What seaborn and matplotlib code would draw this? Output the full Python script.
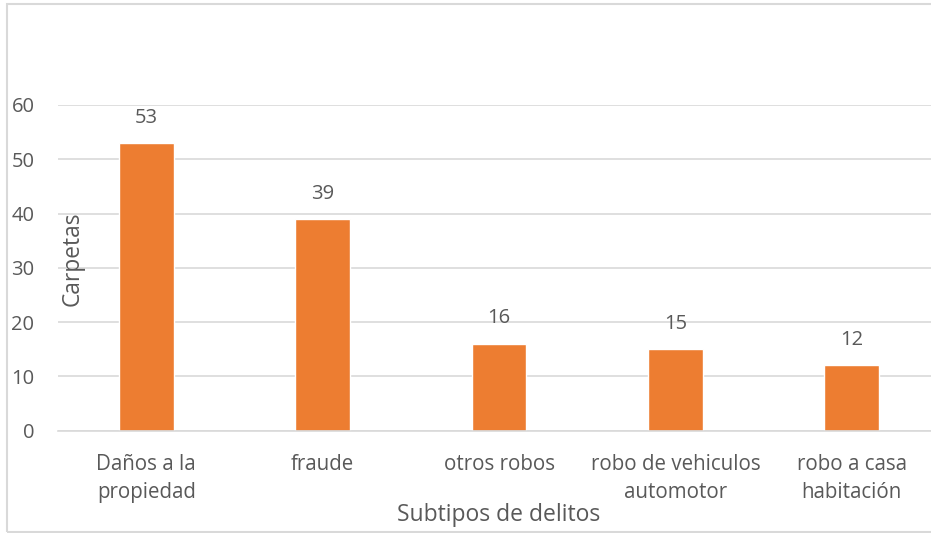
import matplotlib
matplotlib.use("Agg")
import matplotlib.pyplot as plt
import seaborn as sns
import pandas as pd
from matplotlib.patches import Rectangle

categories = ["Daños a la\npropiedad", "fraude", "otros robos", "robo de vehiculos\nautomotor", "robo a casa\nhabitación"]
values = [53, 39, 16, 15, 12]
yticks = [0, 10, 20, 30, 40, 50, 60]

sns.set_theme(style="white")
plt.rcParams['font.family'] = ['Open Sans', 'DejaVu Sans']
TXT = "#595959"

df = pd.DataFrame({"cat": categories, "val": values})

fig = plt.figure(figsize=(9.31, 5.33), dpi=100)
W, H = 931, 533
ax = fig.add_axes([58 / W, 1 - 430.5 / H, (940 - 58) / W, (430.5 - 105) / H])

sns.barplot(data=df, x="cat", y="val", color="#ED7D31", width=0.31, ax=ax, saturation=1)

ax.set_ylim(0, 60)
ax.set_xlim(-0.5, len(categories) - 0.5)
ax.set_yticks(yticks)
ax.yaxis.grid(True, color="#D9D9D9", linewidth=1.2)
ax.set_axisbelow(True)
for s in ["top", "right", "left"]:
    ax.spines[s].set_visible(False)
ax.spines["bottom"].set_color("#D9D9D9")
ax.spines["bottom"].set_linewidth(1.2)
ax.tick_params(axis="y", length=0, pad=17, labelsize=14.5, labelcolor=TXT)
ax.tick_params(axis="x", length=0, pad=17, labelsize=14.8, labelcolor=TXT)
ax.set_xlabel("")
ax.set_ylabel("")
for lab in ax.get_xticklabels():
    lab.set_linespacing(1.45)

for c in ax.containers:
    ax.bar_label(c, labels=[str(v) for v in values], padding=11, fontsize=14.5, color=TXT)

fig.text(72.5 / W, 1 - 259 / H, "Carpetas", rotation=90, ha="center", va="center", fontsize=16.4, color=TXT)
fig.text(499 / W, 1 - 515 / H, "Subtipos de delitos", ha="center", va="center", fontsize=16.5, color=TXT)

fig.patches.append(Rectangle((7 / W, 1 / H), 1.2, 1 - 5 / H, transform=fig.transFigure,
                             fill=False, edgecolor="#D9D9D9", linewidth=1.5, figure=fig))

fig.savefig("out.png", dpi=100)
